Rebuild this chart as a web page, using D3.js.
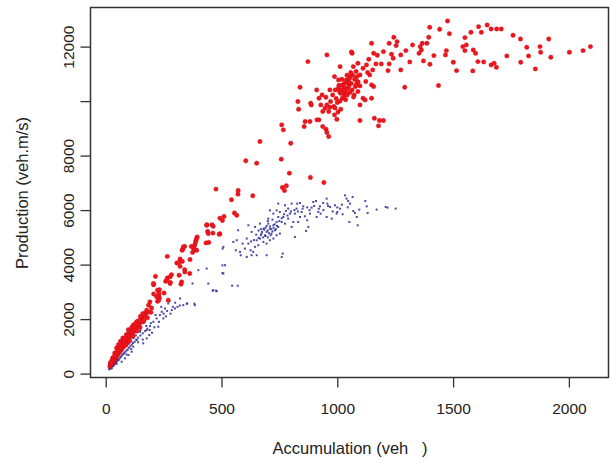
<!DOCTYPE html>
<html>
<head>
<meta charset="utf-8">
<script src="https://cdn.jsdelivr.net/npm/d3@7"></script>
<style>
  body { margin: 0; background: #fff; }
  svg { display: block; font-family: "Liberation Sans", Arial, sans-serif; }
</style>
</head>
<body>
<div id="chart"></div>
<script>
// tick values
var xTicks = [0, 500, 1000, 1500, 2000];
var yTicks = [0, 2000, 4000, 6000, 8000, 10000, 12000];
var yTickLabels = ["0", "2000", "4000", "6000", "8000", "", "12000"];

// red series: [accumulation, production]
var redPoints = [
  [2093,12000],[2061,11853],[2002,11792],[1913,12281],[1922,11609],[1875,12000],[1878,11792],[1855,11181],
  [1818,11976],[1826,11658],[1791,12281],[1792,11426],[1759,12416],[1732,11658],[1708,12648],[1688,12648],
  [1664,12648],[1647,12794],[1622,12525],[1610,12733],[1577,12525],[1557,12062],[1587,11878],[1597,11756],
  [1607,11450],[1585,11108],[1632,11438],[1677,11389],[1687,11242],[1664,11328],[1551,12330],[1551,11853],
  [1542,12000],[1515,11120],[1501,11426],[1484,12476],[1476,12941],[1467,11695],[1471,11853],[1442,12635],
  [1437,10570],[1417,11670],[1400,11352],[1395,12342],[1399,12709],[1387,12122],[1372,11475],[1363,11878],
  [1353,11756],[1367,12122],[1358,12000],[1325,12062],[1313,11438],[1296,11853],[1274,11145],[1274,11695],
  [1291,10509],[1254,12037],[1258,12183],[1241,11573],[1224,11365],[1234,11719],[1244,12342],[1224,12122],
  [1219,11120],[1199,11817],[1190,11365],[1173,11683],[1167,11365],[1148,12122],[1157,11756],[1153,11145],
  [1136,11536],[1126,11328],[1140,10961],[1123,10717],[1131,11047],[1111,11206],[1089,11389],[1086,10717],
  [1081,11084],[1064,11756],[1069,11267],[1056,10900],[1048,10656],[1032,10473],[1039,10778],[1022,10595],
  [1014,10289],[1005,10473],[1022,10106],[1031,10656],[1043,10228],[1064,10411],[1073,10228],[1078,10534],
  [1089,10350],[1098,10558],[1111,10106],[1098,9861],[1120,10045],[1148,10106],[1160,9373],[1178,9092],
  [1182,9288],[1199,9288],[1098,9288],[1148,10595],[1005,10778],[988,10900],[991,10411],[980,10228],
  [971,9984],[985,9800],[968,9776],[955,9861],[947,9739],[988,9495],[998,9336],[963,9617],[968,10411],
  [951,10143],[934,10228],[921,10106],[929,9861],[911,10411],[937,9617],[921,9312],[888,9861],[885,9923],
  [912,9312],[937,9067],[951,8970],[963,8701],[955,8848],[882,9251],[861,9251],[857,9067],[830,9984],
  [833,9703],[839,10509],[873,11450],[955,11695],[1012,11267],[1061,11805],[1098,10961],[1157,10534],
  [1010,10350],[1018,10420],[1025,10300],[1030,10500],[1035,10380],[1040,10250],[1045,10450],[1050,10550],
  [1055,10320],[1060,10650],[1028,10150],[1036,10050],[1012,10000],[1000,9950],[995,10100],[1047,10700],
  [1052,10820],[1066,10950],[1075,10800],[1082,10600],[1090,10700],[1070,10150],[1015,9700],[1003,9600],
  [990,9750],[1007,10580],[1020,10800],[1042,10950],[1058,11050],[1085,10900],
  [760,9128],[767,8945],[799,8456],[666,8517],[605,7809],[652,7723],[758,7870],[793,7356],[780,6892],
  [763,6831],[772,6721],[884,7198],[942,7014],[572,6721],[571,6586],[635,6525],[476,6770],[543,6379],
  [556,5896],[566,5810],[511,5768],[493,5707],[504,5621],[459,5462],[437,5462],[463,5157],[440,5218],
  [493,5132],[445,4815],[393,4973],[388,4827],[385,4729],[378,4607],[370,4668],[385,4546],[341,4668],
  [333,4570],[375,4448],[321,4204],[331,4118],[341,3813],[307,4057],[321,3935],[266,4302],[284,3629],
  [266,3507],[279,3348],[259,3385],[215,3568],[207,3263],[232,3079],[252,2957],[229,2896],[232,2774],
  [207,2921],[224,2652],[198,2407],[182,2249],[168,2163],[156,2041],[140,1919],[123,1796],[114,1711],
  [98,1613],[89,1430],[74,1308],[64,1185],[55,1063],[47,941],[39,758],[30,574],[22,391],
  [395,5015],[390,4894],[381,4650],[393,4527],[335,4650],[330,4527],[364,4186],[316,4076],[342,3733],
  [363,3672],[317,3611],[328,3367],[325,3282],[278,3550],[263,3428],[278,3306],[206,3306],[224,3062],
  [230,2940],[220,2817],[229,2695],[270,2695],[191,2634],[185,2512],[177,2329],[167,2207],[157,2024],
  [162,1901],[134,1901],[119,1780],[112,1658],[127,1597],[102,1475],[83,1292],[76,1170],[62,987],
  [54,804],[44,621],[36,437],[436,5443],[464,5406],[443,5138],[490,5113],[433,4796],
  [18,260],[20,330],[24,380],[25,350],[27,420],[28,390],[31,430],[33,500],[34,470],[36,540],[37,510],
  [40,560],[42,620],[43,590],[45,660],[46,640],[48,700],[50,680],[51,740],[53,720],[57,760],[59,830],
  [61,810],[63,870],[65,850],[67,920],[70,900],[72,960],[75,1010],[78,990],[80,1060],[84,1100],[87,1150],
  [90,1130],[94,1210],[98,1260],[106,1350],[110,1420],[115,1460],[120,1530],[126,1600],[132,1680],
  [138,1740],[145,1820],[152,1900],
  [100,1500],[95,1400],[85,1300],[105,1550],[125,1750],[130,1850],[150,2100],[160,2200],[170,2100],
  [145,1950],[115,1600],[78,1150],[70,1050],[60,950],[52,850],[45,750],[38,650],[32,550],[26,470],
  [21,410],[88,1050],[104,1200],[118,1380],[135,1560],[148,1700],[165,1950],[180,2050],[195,2250]
];

// blue series: [accumulation, production]
var bluePoints = [
  [1252,6055],[1217,6091],[1209,6114],[1170,6018],[1131,5894],[1127,6139],[1121,6333],[1088,5443],
  [1084,5748],[1076,5894],[1052,5565],[1055,6238],[1040,6421],[1033,6542],[1012,6055],[1000,5931],
  [990,6176],[969,6114],[954,6421],[957,6238],[939,6260],[925,6139],[918,5931],[928,5871],[911,5748],
  [896,6297],[908,6333],[889,6091],[882,5871],[870,5626],[860,5773],[853,6139],[846,5931],[839,6260],
  [827,6238],[824,6055],[817,5871],[839,5748],[831,5565],[810,5565],[875,5382],[865,5235],[817,5015],
  [803,5382],[788,5687],[796,5871],[778,5967],[767,5748],[760,5565],[774,5504],[752,5931],[745,5748],
  [745,5382],[738,5565],[731,5260],[724,5443],[716,5138],[709,5321],[702,5504],[695,5199],[688,5077],
  [681,5321],[673,5138],[666,4955],[681,4833],[709,4894],[724,4955],[695,4772],[659,4711],[652,4894],
  [645,4650],[637,4466],[626,4527],[616,4772],[609,4955],[601,4588],[591,4772],[580,4466],[566,4894],
  [562,4527],[572,5260],[583,4344],[609,4282],[630,4344],[652,4344],[695,4344],[738,5077],[752,5138],
  [760,4282],[764,4405],[745,6238],[709,5992],[702,5687],[666,5504],[645,5382],[630,5199],[616,5443],
  [738,5992],[724,5871],[774,6176],[788,6055],[803,6238],[954,5748],[976,5687],[997,5871],[1023,5846],
  [1069,5967],[1095,6018],[1047,6333],[1066,6480],[551,4833],[508,4650],
  [660,5250],[670,5300],[675,5200],[685,5280],[690,5350],[695,5420],[700,5250],[705,5150],[710,5400],
  [715,5300],[720,5220],[725,5350],[730,5480],[735,5300],[740,5420],[690,5050],[700,5000],[680,5000],
  [670,5080],[712,5080],[650,5100],[660,4980],[640,4900],[628,4850],[700,5600],[720,5650],[750,5600],
  [760,5700],[770,5850],[785,5800],[800,5950],[815,6000],[830,5950],[850,6050],[870,6100],[880,6000],
  [900,6150],[920,6050],[940,6000],[960,6150],[980,5950],[1000,6100],[1020,6200],[1045,6100],
  [505,4588],[515,3978],[508,3672],[443,3306],[465,3062],[479,3026],[436,3855],[400,3794],[375,3306],
  [546,3226],[570,3226],[504,3972],[504,3690],[477,3043],[462,3043],[383,2566],[350,2566],
  [352,2573],[385,2512],[335,2512],[321,2756],[299,2390],[285,2329],[270,2573],[256,2390],[242,2268],
  [234,2146],[220,2024],[249,2024],[206,1901],[227,1719],[191,1743],[177,1597],[188,1414],[177,1292],
  [162,1109],[148,1536],[134,1231],[119,987],[112,804],[98,682],[83,560],[69,437],[47,353],[33,280],
  [26,194],
  [15,160],[18,200],[20,180],[22,250],[25,220],[28,300],[30,270],[33,340],[35,320],[38,390],[40,360],
  [43,430],[46,410],[50,470],[53,520],[56,500],[60,560],[64,600],[68,640],[72,690],[76,720],[80,760],
  [85,800],[90,850],[95,880],[100,950],[106,1000],[112,1060],[118,1120],[125,1170],[132,1250],[140,1320],
  [150,1400],[160,1480],[170,1560],[180,1650],
  [120,1300],[140,1150],[160,1250],[190,1600],[200,1500],[210,1700],[230,1900],[250,2200],[260,2100],
  [280,2200],[300,2600],[310,2450],[150,1600],[130,1400],[100,1100],[90,700],[110,900],[240,2450],
  [265,2300],[215,2150],[195,1850],[175,1750],[275,2650],[320,2500],[290,2450]
];

// plot region (R base graphics style)
var plot = { left: 90.5, top: 7.5, right: 608.5, bottom: 377.5 };

var svg = d3.select("#chart").append("svg")
  .attr("width", 610)
  .attr("height", 463);

var x = d3.scaleLinear().domain([-65.6, 2171]).range([plot.left, plot.right]);
var y = d3.scaleLinear().domain([-143, 13435]).range([plot.bottom, plot.top]);

// blue points first, red on top
svg.append("g").selectAll("rect")
  .data(bluePoints)
  .enter().append("rect")
  .attr("x", function (d) { return x(d[0]) - 1; })
  .attr("y", function (d) { return y(d[1]) - 1; })
  .attr("width", 2)
  .attr("height", 2)
  .attr("fill", "#2c2c96")
  .attr("opacity", 0.85);

svg.append("g").selectAll("circle")
  .data(redPoints)
  .enter().append("circle")
  .attr("cx", function (d) { return x(d[0]); })
  .attr("cy", function (d) { return y(d[1]); })
  .attr("r", 2.2)
  .attr("fill", "#f0151a")
  .attr("stroke", "#c41018")
  .attr("stroke-width", 0.4);

// box
svg.append("rect")
  .attr("x", plot.left)
  .attr("y", plot.top)
  .attr("width", plot.right - plot.left)
  .attr("height", plot.bottom - plot.top)
  .attr("fill", "none")
  .attr("stroke", "#333")
  .attr("stroke-width", 1.5);

// x axis
var xAxis = d3.axisBottom(x).tickValues(xTicks).tickSize(10).tickSizeOuter(0)
  .tickFormat(d3.format("d"));
var gx = svg.append("g").attr("transform", "translate(0," + plot.bottom + ")").call(xAxis);
gx.select(".domain").remove();
gx.selectAll(".tick line").attr("stroke", "#333").attr("stroke-width", 1.3);
gx.selectAll(".tick text")
  .attr("y", 36.5).attr("dy", 0)
  .attr("font-size", 15.5)
  .attr("font-family", "Liberation Sans, Arial, sans-serif")
  .attr("fill", "#222");

// y axis, labels parallel to the axis
var yAxis = d3.axisLeft(y).tickValues(yTicks).tickSize(10).tickSizeOuter(0)
  .tickFormat(function (d, i) { return yTickLabels[i]; });
var gy = svg.append("g").attr("transform", "translate(" + plot.left + ",0)").call(yAxis);
gy.select(".domain").remove();
gy.selectAll(".tick line").attr("stroke", "#333").attr("stroke-width", 1.3);
gy.selectAll(".tick text")
  .attr("x", null).attr("dy", 0)
  .attr("text-anchor", "middle")
  .attr("transform", "translate(-17,0) rotate(-90)")
  .attr("font-size", 15.5)
  .attr("font-family", "Liberation Sans, Arial, sans-serif")
  .attr("fill", "#222");

// axis titles
svg.append("text")
  .attr("x", 350)
  .attr("y", 454)
  .attr("text-anchor", "middle")
  .attr("font-size", 16.5)
  .attr("fill", "#222")
  .style("white-space", "pre")
  .text("Accumulation (veh   )");

svg.append("text")
  .attr("transform", "translate(28,193) rotate(-90)")
  .attr("text-anchor", "middle")
  .attr("font-size", 16.5)
  .attr("fill", "#222")
  .text("Production (veh.m/s)");
</script>
</body>
</html>
